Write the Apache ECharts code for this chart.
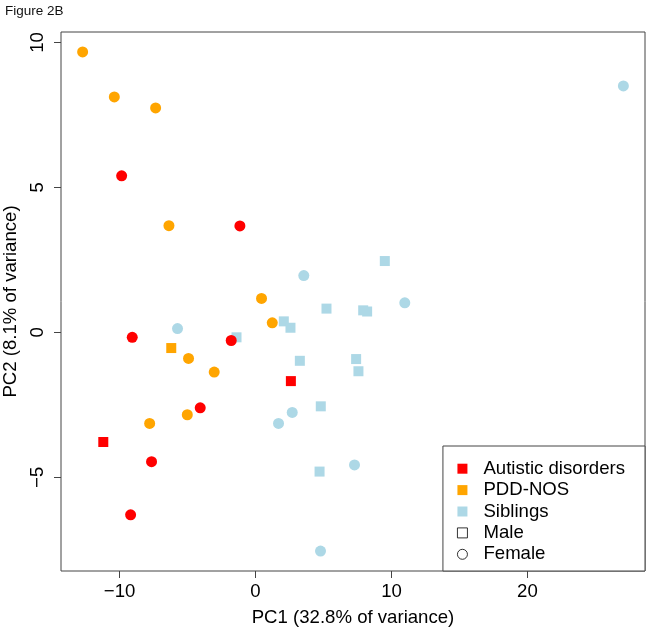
<!DOCTYPE html>
<html><head><meta charset="utf-8">
<script src="https://cdn.jsdelivr.net/npm/echarts@6/dist/echarts.min.js"></script>
<style>html,body{margin:0;padding:0;background:#fff}#c{width:651px;height:633px}</style>
</head><body><div id="c"></div>
<script>
// ---- data ----
const groupNames = ['Autistic disorders', 'PDD-NOS', 'Siblings'];
const groupColors = ['#FF0000', '#FFA500', '#ADD8E6'];
const sexNames = ['Male', 'Female'];

const autisticMale = [[2.60, -1.68], [-11.2, -3.78]];
const autisticFemale = [[-9.85, 5.40], [-1.15, 3.67], [-9.07, -0.17], [-1.79, -0.28], [-4.07, -2.60], [-7.65, -4.46], [-9.19, -6.29]];
const pddMale = [[-6.20, -0.54]];
const pddFemale = [[-12.72, 9.67], [-10.39, 8.12], [-7.35, 7.74], [-6.37, 3.68], [0.44, 1.17], [1.23, 0.33], [-4.93, -0.90], [-3.04, -1.37], [-5.02, -2.84], [-7.79, -3.14]];
const siblingsMale = [[9.51, 2.46], [5.22, 0.82], [7.92, 0.76], [8.21, 0.72], [2.08, 0.38], [2.57, 0.16], [-1.40, -0.17], [3.26, -0.98], [7.40, -0.92], [7.57, -1.34], [4.80, -2.55], [4.71, -4.80]];
const siblingsFemale = [[27.06, 8.50], [3.55, 1.96], [10.98, 1.02], [-5.74, 0.13], [2.70, -2.76], [1.69, -3.14], [7.28, -4.57], [4.78, -7.54]];

const xTicks = [-10, 0, 10, 20];
const yTicks = [-5, 0, 5, 10];
const xTitle = 'PC1 (32.8% of variance)';
const yTitle = 'PC2 (8.1% of variance)';
const figLabel = 'Figure 2B';

// ---- axis extents: R default (data range extended by 4%) ----
const all = [].concat(autisticMale, autisticFemale, pddMale, pddFemale, siblingsMale, siblingsFemale);
function ext(idx) {
  const v = all.map(p => p[idx]);
  const lo = Math.min(...v), hi = Math.max(...v), pad = (hi - lo) * 0.04;
  return [lo - pad, hi + pad];
}
const [xMin, xMax] = ext(0);
const [yMin, yMax] = ext(1);

const FONT = 'Liberation Sans';
const FS = 18.6;
const BOX = '#444';

function sc(name, data, color, symbol, size) {
  return {
    type: 'scatter', name: name, data: data, symbol: symbol, symbolSize: size,
    itemStyle: { color: color, opacity: 1 }, emphasis: { disabled: true }, silent: true
  };
}

const series = [
  sc(groupNames[2], siblingsMale, groupColors[2], 'rect', 10),
  sc(groupNames[2], siblingsFemale, groupColors[2], 'circle', 11),
  sc(groupNames[1], pddMale, groupColors[1], 'rect', 10),
  sc(groupNames[1], pddFemale, groupColors[1], 'circle', 11),
  sc(groupNames[0], autisticMale, groupColors[0], 'rect', 10),
  sc(groupNames[0], autisticFemale, groupColors[0], 'circle', 11),
  { type: 'scatter', name: sexNames[0], data: [], symbol: 'rect', itemStyle: { color: '#fff', borderColor: '#000', borderWidth: 1 } },
  { type: 'scatter', name: sexNames[1], data: [], symbol: 'circle', itemStyle: { color: '#fff', borderColor: '#000', borderWidth: 1 } }
];

const legendData = groupNames.map((n, i) => ({ name: n, icon: 'rect', itemStyle: { color: groupColors[i], borderWidth: 0 } }))
  .concat([
    { name: sexNames[0], icon: 'rect', itemStyle: { color: '#fff', borderColor: '#000', borderWidth: 1 } },
    { name: sexNames[1], icon: 'circle', itemStyle: { color: '#fff', borderColor: '#000', borderWidth: 1 } }
  ]);

const neg = v => (v < 0 ? '\u2212' + Math.abs(v) : String(v));

const chart = echarts.init(document.getElementById('c'), null, { renderer: 'canvas' });
chart.setOption({
  animation: false,
  backgroundColor: '#fff',
  title: {
    text: figLabel, left: 5, top: 4, padding: 0,
    textStyle: { fontSize: 13.5, fontWeight: 'normal', fontFamily: FONT, color: '#111' }
  },
  grid: { left: 61, right: 6, top: 32, bottom: 62, show: true, borderColor: BOX, borderWidth: 1,
    backgroundColor: 'transparent', outerBoundsMode: 'none', containLabel: false },
  xAxis: {
    type: 'value', min: xMin, max: xMax, position: 'bottom',
    splitLine: { show: false },
    axisLine: { show: false, onZero: false },
    axisTick: { show: true, length: 7, lineStyle: { color: BOX }, customValues: xTicks },
    axisLabel: { customValues: xTicks, fontSize: FS, fontFamily: FONT, color: '#000', margin: 11, formatter: neg },
    name: xTitle, nameLocation: 'middle', nameGap: 37,
    nameTextStyle: { fontSize: FS, fontFamily: FONT, color: '#000' }
  },
  yAxis: {
    type: 'value', min: yMin, max: yMax, position: 'left',
    splitLine: { show: false },
    axisLine: { show: false, onZero: false },
    axisTick: { show: true, length: 7, lineStyle: { color: BOX }, customValues: yTicks },
    axisLabel: { customValues: yTicks, rotate: 90, fontSize: FS, fontFamily: FONT, color: '#000', margin: 14, formatter: neg },
    name: yTitle, nameLocation: 'middle', nameGap: 36, nameRotate: 90,
    nameTextStyle: { fontSize: FS, fontFamily: FONT, color: '#000' }
  },
  legend: {
    orient: 'vertical', right: 6, bottom: 62,
    padding: [12, 20, 6, 14], itemGap: 0,
    itemWidth: 10, itemHeight: 10,
    borderColor: BOX, borderWidth: 1, backgroundColor: '#fff',
    selectedMode: false,
    textStyle: { fontSize: FS, fontFamily: FONT, color: '#000', lineHeight: 21.4, padding: [0, 0, 0, 11] },
    data: legendData
  },
  series: series
});
</script></body></html>
